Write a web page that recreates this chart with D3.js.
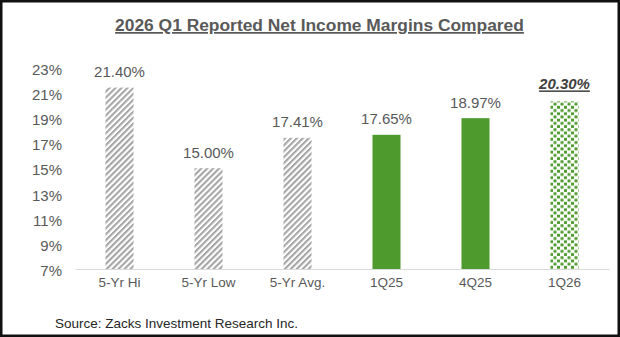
<!DOCTYPE html>
<html><head><meta charset="utf-8">
<script src="https://cdn.jsdelivr.net/npm/d3@7"></script>
<style>body{margin:0;background:#fff}svg{display:block}text{font-family:"Liberation Sans",Arial,sans-serif}</style>
</head><body>
<script>
const categories = ["5-Yr Hi","5-Yr Low","5-Yr Avg.","1Q25","4Q25","1Q26"];
const values = [21.40, 15.00, 17.41, 17.65, 18.97, 20.30];
const valueLabels = ["21.40%","15.00%","17.41%","17.65%","18.97%","20.30%"];
const fillTypes = ["hatch","hatch","hatch","solid","solid","dots"];
const yTicks = [7,9,11,13,15,17,19,21,23];
const title = "2026 Q1 Reported Net Income Margins Compared";
const source = "Source: Zacks Investment Research Inc.";

const W=620,H=337;
const svg=d3.select("body").append("svg").attr("width",W).attr("height",H);
svg.append("rect").attr("width",W).attr("height",H).attr("fill","#fff");
const defs=svg.append("defs");
const hatch=defs.append("pattern").attr("id","hatch").attr("patternUnits","userSpaceOnUse")
  .attr("width",4.2).attr("height",4.2).attr("patternTransform","rotate(45)");
hatch.append("rect").attr("width",4.2).attr("height",4.2).attr("fill","#fff");
hatch.append("rect").attr("width",2.1).attr("height",4.2).attr("fill","#a6a6a6");
const dots=defs.append("pattern").attr("id","dots").attr("patternUnits","userSpaceOnUse")
  .attr("width",7).attr("height",6.4);
dots.append("rect").attr("width",7).attr("height",6.4).attr("fill","#fff");
dots.append("rect").attr("x",0.5).attr("y",0.3).attr("width",3).attr("height",2.8).attr("fill","#4e9a2c");
dots.append("rect").attr("x",4).attr("y",3.5).attr("width",3).attr("height",2.8).attr("fill","#4e9a2c");

const x=d3.scaleBand().domain(categories).range([75,609]).paddingInner(0.685).paddingOuter(0.3425);
const y=d3.scaleLinear().domain([7,23]).range([269,67.4]);

// title
svg.append("text").attr("x",319.5).attr("y",31).attr("text-anchor","middle")
  .attr("font-size",17.4).attr("font-weight","bold").attr("fill","#595959")
  .attr("text-decoration","underline").text(title);

// y axis labels
const yAxis=d3.axisLeft(y).tickValues(yTicks).tickFormat(d=>d+"%").tickSize(0).tickPadding(0);
const ya=svg.append("g").attr("transform","translate(62,0)").call(yAxis);
ya.select(".domain").remove();
ya.selectAll("text").attr("font-size",15).attr("fill","#595959").attr("dy","0.45em")
  .style("font-family",'"Liberation Sans",Arial,sans-serif');

// bars
const fillFor=t=>t==="hatch"?"url(#hatch)":t==="dots"?"url(#dots)":"#4e9a2c";
svg.selectAll("rect.bar").data(categories).join("rect").attr("class","bar")
  .attr("x",d=>x(d)).attr("width",x.bandwidth())
  .attr("y",(d,i)=>y(values[i])).attr("height",(d,i)=>y(7)-y(values[i]))
  .attr("fill",(d,i)=>fillFor(fillTypes[i]));

// x axis
const xAxis=d3.axisBottom(x).tickSize(0).tickPadding(0);
const xa=svg.append("g").attr("transform",`translate(0,${y(7)})`).call(xAxis);
xa.select(".domain").attr("stroke","#d9d9d9").attr("stroke-width",1.2);
xa.selectAll("text").attr("font-size",13.5).attr("fill","#595959").attr("dy","1.35em")
  .style("font-family",'"Liberation Sans",Arial,sans-serif');

// value labels
svg.selectAll("text.val").data(categories).join("text").attr("class","val")
  .attr("x",d=>x(d)+x.bandwidth()/2).attr("y",(d,i)=>y(values[i])-(i===5?12:10.5))
  .attr("text-anchor","middle").attr("font-size",15)
  .attr("fill",(d,i)=>i===5?"#404040":"#595959")
  .attr("font-weight",(d,i)=>i===5?"bold":"normal")
  .attr("font-style",(d,i)=>i===5?"italic":"normal")
  .attr("text-decoration",(d,i)=>i===5?"underline":"none")
  .text((d,i)=>valueLabels[i]);

// source
svg.append("text").attr("x",55).attr("y",327.5).attr("font-size",13.5).attr("fill","#262626").text(source);

// border
svg.append("rect").attr("x",1.25).attr("y",1.25).attr("width",W-2.5).attr("height",H-2.5)
  .attr("fill","none").attr("stroke","#111").attr("stroke-width",2.5);
</script>
</body></html>
